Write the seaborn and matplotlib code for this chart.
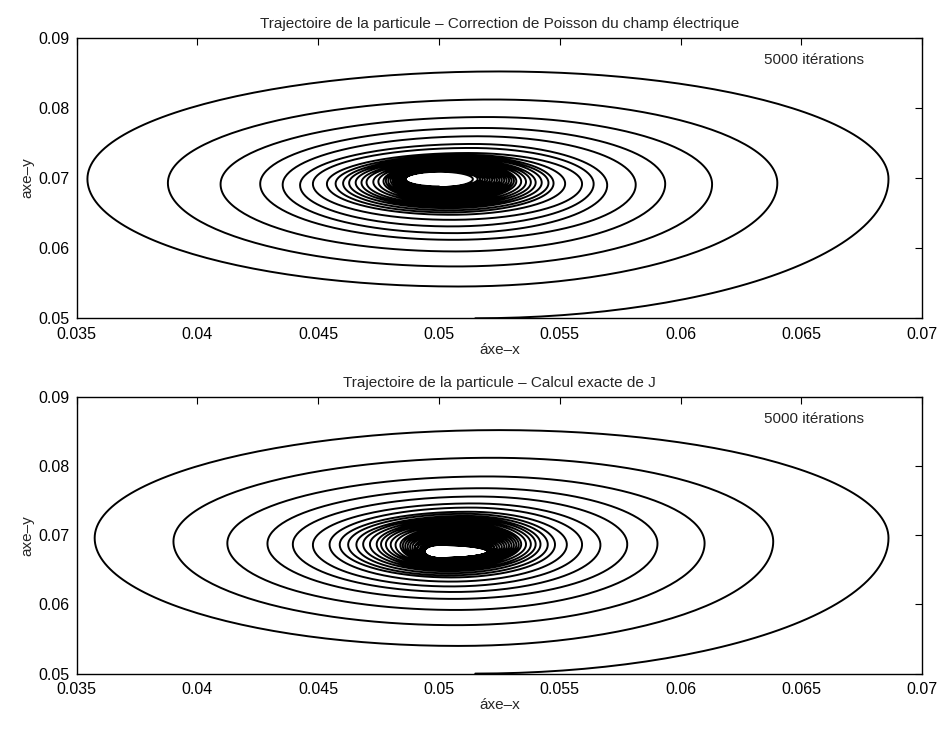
import numpy as np
import pandas as pd
import matplotlib
matplotlib.use("Agg")
import matplotlib.pyplot as plt
import seaborn as sns

# ---- values (extremes of each turn of the spiral) ----
# panel 1: Correction de Poisson
p1_start = (0.0515, 0.0500)
p1_right = [0.0686, 0.0640, 0.0613, 0.05936, 0.05814, 0.05696, 0.0564, 0.05592,
            0.05522, 0.05474, 0.05453, 0.05425, 0.0540, 0.0538, 0.0536, 0.0534,
            0.0532, 0.0531, 0.0530, 0.0529, 0.0528, 0.0527, 0.0526, 0.0525,
            0.0524, 0.0523, 0.0522, 0.0521, 0.0520, 0.0519, 0.0518, 0.0517,
            0.0516, 0.0514]
p1_top = [0.0852, 0.0812, 0.0787, 0.07714, 0.07596, 0.07486, 0.07429, 0.07357,
          0.0733, 0.0731, 0.0729, 0.0728, 0.0726, 0.0725, 0.0724, 0.0723,
          0.0722, 0.0721, 0.0720, 0.0719, 0.0718, 0.0717, 0.0716, 0.0715,
          0.0714, 0.0713, 0.0713, 0.0712, 0.0712, 0.0711, 0.0711, 0.0710,
          0.0710, 0.0709]
p1_left = [0.03545, 0.03878, 0.04096, 0.0426, 0.04353, 0.04425, 0.04478, 0.04536,
           0.04572, 0.04603, 0.04628, 0.04655, 0.04679, 0.0470, 0.04728, 0.04749,
           0.0477, 0.0478, 0.0479, 0.0480, 0.0481, 0.0481, 0.0482, 0.0482,
           0.0483, 0.0483, 0.0484, 0.0484, 0.0485, 0.0485, 0.0485, 0.0486,
           0.0486, 0.0486]
p1_bottom = [0.05453, 0.05739, 0.05953, 0.06119, 0.06214, 0.0631, 0.06404, 0.06476,
             0.0651, 0.0654, 0.0657, 0.0659, 0.0661, 0.0663, 0.0665, 0.0667,
             0.0669, 0.0671, 0.0672, 0.0674, 0.0675, 0.0677, 0.0678, 0.0679,
             0.0680, 0.0681, 0.0682, 0.0683, 0.0684, 0.0685, 0.0686, 0.0687,
             0.0687, 0.0688]

# panel 2: Calcul exacte de J
p2_start = (0.0515, 0.0500)
p2_right = [0.0686, 0.06383, 0.06099, 0.05904, 0.05779, 0.05668, 0.05592, 0.05529,
            0.0548, 0.0545, 0.0542, 0.0540, 0.0538, 0.0536, 0.0534, 0.0533,
            0.0532, 0.0531, 0.0530, 0.0529, 0.0528, 0.0527, 0.0526, 0.0525,
            0.0524, 0.0523, 0.0523, 0.0522, 0.0522, 0.0521, 0.0521, 0.0521,
            0.0520, 0.0520]
p2_top = [0.0852, 0.0812, 0.0785, 0.0768, 0.0756, 0.0746, 0.0740, 0.0734,
          0.0731, 0.0728, 0.0726, 0.0724, 0.0722, 0.0720, 0.0718, 0.0716,
          0.0714, 0.0712, 0.0710, 0.0708, 0.0706, 0.0704, 0.0702, 0.0700,
          0.0698, 0.0696, 0.0694, 0.0692, 0.0690, 0.0689, 0.0688, 0.0687,
          0.0686, 0.0686]
p2_left = [0.03575, 0.03901, 0.04124, 0.0429, 0.04395, 0.04478, 0.04547, 0.04589,
           0.04624, 0.04658, 0.04686, 0.04714, 0.04742, 0.0476, 0.0478, 0.0480,
           0.0482, 0.0484, 0.0485, 0.0486, 0.0487, 0.0488, 0.0489, 0.0490,
           0.0490, 0.0491, 0.0491, 0.0492, 0.0492, 0.0493, 0.0493, 0.0494,
           0.0494, 0.0494]
p2_bottom = [0.0540, 0.0570, 0.0592, 0.0608, 0.0618, 0.0626, 0.0633, 0.0639,
             0.0642, 0.0645, 0.0648, 0.0650, 0.0652, 0.0654, 0.0656, 0.0657,
             0.0658, 0.0659, 0.0660, 0.0661, 0.0662, 0.0663, 0.0664, 0.0664,
             0.0665, 0.0665, 0.0666, 0.0666, 0.0666, 0.0667, 0.0667, 0.0667,
             0.0667, 0.0667]

# x position of the top and bottom of each turn (shared by both panels)
top_x = [0.0525, 0.0522, 0.0520, 0.0518, 0.0516, 0.0514, 0.0513, 0.0512,
         0.0511, 0.0511, 0.0510, 0.0510, 0.0509, 0.0509, 0.0508, 0.0508,
         0.0507, 0.0507, 0.0506, 0.0506, 0.0505, 0.0505, 0.0504, 0.0504,
         0.0503, 0.0503, 0.0502, 0.0502, 0.0502, 0.0501, 0.0501, 0.0501,
         0.0500, 0.0500]
bottom_x = [0.0508, 0.0507, 0.0507, 0.0506, 0.0506, 0.0505, 0.0505, 0.0505,
            0.0504, 0.0504, 0.0504, 0.0504, 0.0503, 0.0503, 0.0503, 0.0503,
            0.0502, 0.0502, 0.0502, 0.0502, 0.0501, 0.0501, 0.0501, 0.0501,
            0.0501, 0.0500, 0.0500, 0.0500, 0.0500, 0.0500, 0.0500, 0.0500,
            0.0500, 0.0500]

titles = ["Trajectoire de la particule \u2013 Correction de Poisson du champ \u00e9lectrique",
          "Trajectoire de la particule \u2013 Calcul exacte de J"]
x_ticks = [0.035, 0.04, 0.045, 0.05, 0.055, 0.06, 0.065, 0.07]
x_tick_labels = ["0.035", "0.04", "0.045", "0.05", "0.055", "0.06", "0.065", "0.07"]
y_ticks = [0.05, 0.06, 0.07, 0.08, 0.09]
y_tick_labels = ["0.05", "0.06", "0.07", "0.08", "0.09"]


def spiral_path(start, right, top, left, bottom):
    # key points: bottom -> right -> top -> left -> bottom ... joined by quarter ellipses
    pts = [start]
    for k in range(len(right)):
        mid = (top[k] + bottom[k]) / 2
        pts += [(right[k], mid), (top_x[k], top[k]), (left[k], mid), (bottom_x[k], bottom[k])]
    t = np.linspace(0, np.pi / 2, 60)
    xs, ys = [], []
    for i in range(len(pts) - 1):
        (x0, y0), (x1, y1) = pts[i], pts[i + 1]
        if i % 2 == 0:
            x = x0 + (x1 - x0) * np.sin(t)
            y = y1 + (y0 - y1) * np.cos(t)
        else:
            x = x1 + (x0 - x1) * np.cos(t)
            y = y0 + (y1 - y0) * np.sin(t)
        xs.append(x)
        ys.append(y)
    xs = np.concatenate(xs)
    ys = np.concatenate(ys)
    return pd.DataFrame({"x": xs, "y": ys, "order": np.arange(len(xs))})


sns.set_theme(style="white")
plt.rcParams["font.family"] = ["Liberation Sans", "DejaVu Sans"]

fig = plt.figure(figsize=(9.45, 7.56), dpi=100)
ax1 = fig.add_axes([0.081, 0.579, 0.895, 0.371])
ax2 = fig.add_axes([0.081, 0.109, 0.895, 0.366])

panels = [
    (ax1, spiral_path(p1_start, p1_right, p1_top, p1_left, p1_bottom)),
    (ax2, spiral_path(p2_start, p2_right, p2_top, p2_left, p2_bottom)),
]

for i, (ax, df) in enumerate(panels):
    sns.lineplot(data=df, x="x", y="y", sort=False, estimator=None, color="black",
                 linewidth=1.4, ax=ax)
    ax.set_xlim(0.035, 0.07)
    ax.set_ylim(0.05, 0.09)
    ax.set_xticks(x_ticks)
    ax.set_xticklabels(x_tick_labels)
    ax.set_yticks(y_ticks)
    ax.set_yticklabels(y_tick_labels)
    ax.tick_params(direction="in", top=True, right=True, length=5, width=0.8,
                   labelsize=11.5, colors="black")
    ax.tick_params(axis="x", pad=6)
    ax.tick_params(axis="y", pad=5)
    for s in ax.spines.values():
        s.set_color("black")
        s.set_linewidth(1.0)
    ax.set_xlabel("\u00e1xe\u2013x", fontsize=11, labelpad=1)
    ax.set_ylabel("axe\u2013y", fontsize=11, labelpad=3)
    ax.set_title(titles[i], fontsize=11, pad=7)
    ax.text(0.0655, 0.0868, "5000 it\u00e9rations", fontsize=11, ha="center", va="center")

fig.savefig("out.png", dpi=100)
